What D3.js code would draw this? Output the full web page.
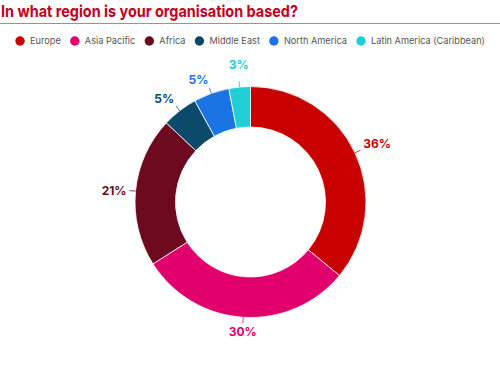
<!DOCTYPE html>
<html>
<head>
<meta charset="utf-8">
<script src="https://cdn.jsdelivr.net/npm/d3@7"></script>
<style>
  body { margin: 0; background: #fff; }
  svg { display: block; font-family: "Inter", "Open Sans", sans-serif; }
</style>
</head>
<body>
<div id="chart"></div>
<script>
// 数据
var regions = ["Europe", "Asia Pacific", "Africa", "Middle East", "North America", "Latin America (Caribbean)"];
var shares = [36, 30, 21, 5, 5, 3];
var colours = ["#c90000", "#e2006c", "#6d0a1f", "#0b4a6b", "#1a74e4", "#20cfd5"];
var titleText = "In what region is your organisation based?";

var width = 500, height = 372;
var cx = 250.5, cy = 202, outerR = 115.5, innerR = 75;

var svg = d3.select("#chart").append("svg")
    .attr("width", width)
    .attr("height", height);

// 标题
svg.append("text")
    .attr("x", 1)
    .attr("y", 17)
    .attr("fill", "#c3001c")
    .attr("font-size", 16.5)
    .attr("font-weight", 700)
    .attr("textLength", 297)
    .attr("lengthAdjust", "spacingAndGlyphs")
    .text(titleText);

svg.append("line")
    .attr("x1", 0).attr("x2", width)
    .attr("y1", 23.5).attr("y2", 23.5)
    .attr("stroke", "#d9787c")
    .attr("stroke-width", 1);

// 图例
var legend = svg.append("g").attr("class", "legend");
var lx = 0;
var items = legend.selectAll("g.item")
    .data(regions)
    .enter().append("g")
    .attr("class", "item");

items.append("circle")
    .attr("r", 4.7)
    .attr("cy", 41)
    .attr("fill", function (d, i) { return colours[i]; });

items.append("text")
    .attr("y", 44.3)
    .attr("font-size", 9.2)
    .attr("fill", "#555")
    .text(function (d) { return d; });

items.each(function () {
    var g = d3.select(this);
    var w = g.select("text").node().getComputedTextLength();
    g.select("circle").attr("cx", lx + 5);
    g.select("text").attr("x", lx + 15);
    lx += 15 + w + 9;
});
var legendW = lx - 9;
legend.attr("transform", "translate(" + (250 - legendW / 2) + ",0)");

// 环形图
var pie = d3.pie().sort(null).value(function (d) { return d; });
var arcs = pie(shares);
var arc = d3.arc().innerRadius(innerR).outerRadius(outerR);

var donut = svg.append("g")
    .attr("transform", "translate(" + cx + "," + cy + ")");

donut.selectAll("path")
    .data(arcs)
    .enter().append("path")
    .attr("d", arc)
    .attr("fill", function (d, i) { return colours[i]; })
    .attr("stroke", "#fff")
    .attr("stroke-width", 0.8);

function polar(a, r) {
    return [r * Math.sin(a), -r * Math.cos(a)];
}
function mid(d) { return (d.startAngle + d.endAngle) / 2; }
function side(d) {
    var s = Math.sin(mid(d));
    if (Math.abs(s) < 0.2) return "middle";
    return s > 0 ? "start" : "end";
}

// 标签和引线
var lab = donut.selectAll("g.lab")
    .data(arcs)
    .enter().append("g")
    .attr("class", "lab");

lab.append("line")
    .attr("x1", function (d) { return polar(mid(d), outerR)[0]; })
    .attr("y1", function (d) { return polar(mid(d), outerR)[1]; })
    .attr("x2", function (d) { return polar(mid(d), outerR + 6)[0]; })
    .attr("y2", function (d) { return polar(mid(d), outerR + 6)[1]; })
    .attr("stroke", function (d, i) { return colours[i]; })
    .attr("stroke-width", 0.8);

lab.append("text")
    .attr("font-size", 12)
    .attr("font-weight", 700)
    .attr("fill", function (d, i) { return colours[i]; })
    .attr("text-anchor", side)
    .attr("x", function (d) { return polar(mid(d), outerR + 9)[0]; })
    .attr("y", function (d) {
        var a = mid(d);
        if (side(d) === "middle") {
            return Math.cos(a) > 0 ? polar(a, outerR + 18)[1] : polar(a, outerR + 19)[1];
        }
        // 上半部的标签稍微抬高一点
        return polar(a, outerR + 9)[1] + 4.3 - (Math.cos(a) > 0.3 ? 5 : 0);
    })
    .text(function (d) { return d.data + "%"; });
</script>
</body>
</html>
